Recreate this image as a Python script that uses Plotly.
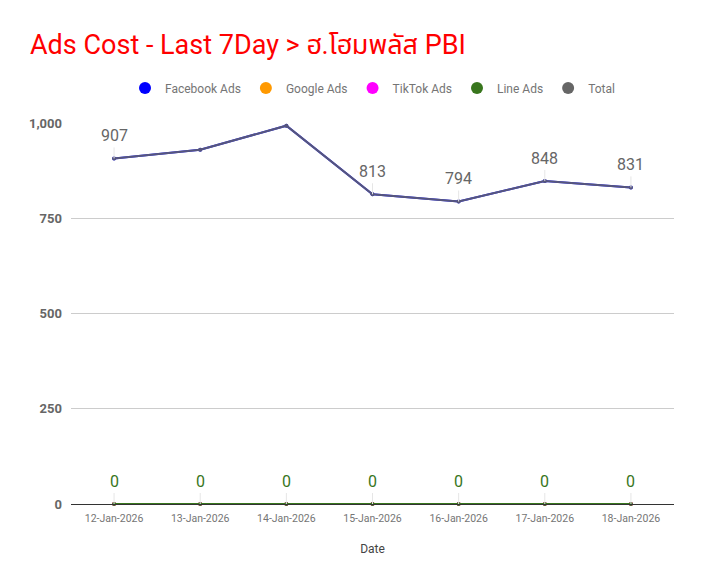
import plotly.graph_objects as go

dates = ["12-Jan-2026", "13-Jan-2026", "14-Jan-2026", "15-Jan-2026",
         "16-Jan-2026", "17-Jan-2026", "18-Jan-2026"]
facebook_ads = [907, 930, 993, 813, 794, 848, 831]
google_ads = [0, 0, 0, 0, 0, 0, 0]
tiktok_ads = [0, 0, 0, 0, 0, 0, 0]
line_ads = [0, 0, 0, 0, 0, 0, 0]
total = [907, 930, 993, 813, 794, 848, 831]
total_label_shown = [True, False, False, True, True, True, True]

title_text = "Ads Cost - Last 7Day > ฮ.โฮมพลัส PBI"
y_ticks = [0, 250, 500, 750, 1000]

FONT = "Roboto, 'Noto Sans', 'Noto Sans Thai', sans-serif"

fig = go.Figure()

series = [
    ("Facebook Ads", facebook_ads, "#0000ff", 1.0),
    ("Google Ads", google_ads, "#ff9900", 1.0),
    ("TikTok Ads", tiktok_ads, "#ff00ff", 1.0),
    ("Line Ads", line_ads, "#38761d", 1.0),
    ("Total", total, "#666666", 0.85),
]
for name, vals, color, op in series:
    fig.add_trace(go.Scatter(
        x=dates, y=vals, name=name, mode="lines+markers",
        line=dict(color=color, width=2),
        marker=dict(color=color, size=4),
        opacity=op, cliponaxis=False, showlegend=False,
    ))
# legend entries as plain circles
for name, vals, color, op in series:
    fig.add_trace(go.Scatter(
        x=[dates[0]], y=[None], name=name, mode="markers",
        marker=dict(color=color, size=12), showlegend=True,
    ))

annotations = []
for d, v, show in zip(dates, total, total_label_shown):
    if show:
        annotations.append(dict(
            x=d, y=v, xref="x", yref="y", text=str(v),
            showarrow=True, arrowhead=0, arrowwidth=1, arrowcolor="#e6e6e6",
            ax=0, ay=-11, yanchor="bottom",
            font=dict(family=FONT, size=16, color="#666666"),
        ))
for d, v in zip(dates, line_ads):
    annotations.append(dict(
        x=d, y=v, xref="x", yref="y", text=str(v),
        showarrow=True, arrowhead=0, arrowwidth=1, arrowcolor="#e6e6e6",
        ax=0, ay=-11, yanchor="bottom",
        font=dict(family=FONT, size=16, color="#38761d"),
    ))

fig.update_layout(
    width=696, height=577,
    paper_bgcolor="white", plot_bgcolor="white",
    margin=dict(l=63, r=30, t=115, b=81),
    title=dict(text=title_text, x=22 / 696, xanchor="left", y=1 - 37 / 577, yanchor="middle",
               font=dict(family=FONT, size=27, color="#ff0000")),
    legend=dict(orientation="h", x=0.5, xanchor="center", y=1.0 + 35 / 381,
                yanchor="middle", font=dict(family=FONT, size=12, color="#757575"),
                itemsizing="trace", traceorder="normal"),
    showlegend=True,
    annotations=annotations,
    font=dict(family=FONT),
)
fig.update_xaxes(
    type="category", range=[-0.5, 6.5], showgrid=False, zeroline=False,
    showline=True, linecolor="#333333", linewidth=1,
    tickfont=dict(family=FONT, size=10.5, color="#757575"),
    ticks="", ticklabelstandoff=4,
    title=dict(text="Date", font=dict(family=FONT, size=12, color="#444444"),
               standoff=21),
)
fig.update_yaxes(
    range=[0, 1000], tickvals=y_ticks, tickformat=",d",
    showgrid=True, gridcolor="#cccccc", gridwidth=1,
    zeroline=True, zerolinecolor="#333333", zerolinewidth=1,
    tickfont=dict(family=FONT, size=13, color="#666666", weight="bold"),
    ticks="", ticklabelstandoff=8,
)

fig.write_html("out.html")
